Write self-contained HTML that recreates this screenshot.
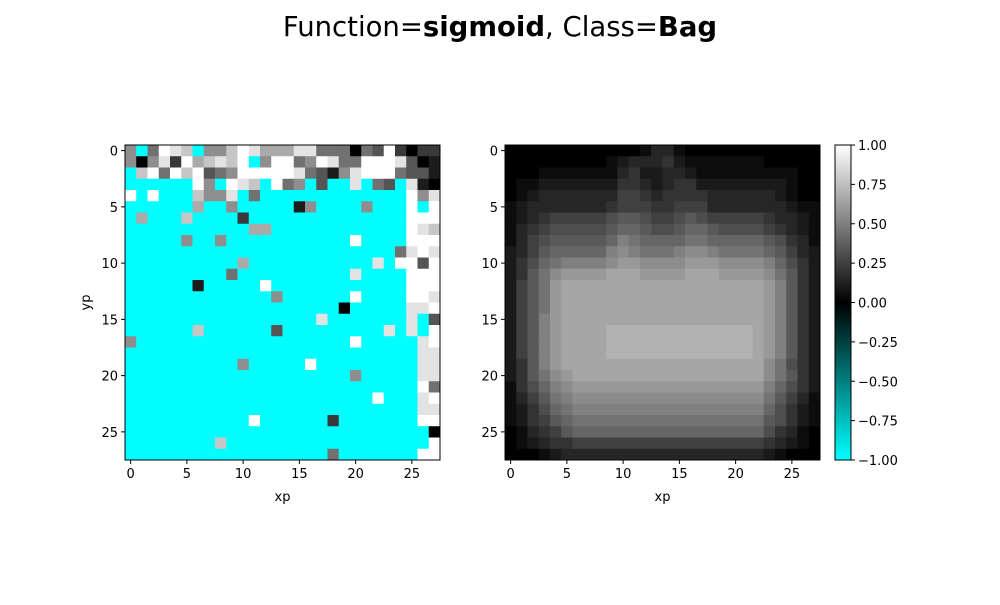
<!DOCTYPE html>
<html><head><meta charset="utf-8"><style>
body{margin:0;background:#fff;}
svg text{font-family:"DejaVu Sans","Liberation Sans",sans-serif;fill:#000;}
</style></head><body>
<svg id="fig" width="1000" height="600" viewBox="0 0 1000 600" xmlns="http://www.w3.org/2000/svg">
<rect width="1000" height="600" fill="#fff"/>
<text x="500" y="36" font-size="27.5" text-anchor="middle">Function=<tspan font-weight="bold">sigmoid</tspan>, Class=<tspan font-weight="bold">Bag</tspan></text>
<defs><linearGradient id="cbg" x1="0" y1="1" x2="0" y2="0">
<stop offset="0" stop-color="#00ffff"/><stop offset="0.5" stop-color="#000"/><stop offset="1" stop-color="#fff"/></linearGradient></defs>
<g id="left"></g>
<g id="right"></g>
<g id="cbar"></g>
</svg>
<script>
// Left heatmap: '.' = -1 (cyan), digit d = d/9
const leftRows = [
"5.4987.557986668844404392022",
"50582967879.5994598449998301",
".794979345999998431589994331",
"......95.987.945.3..8.43.810",
"9.9...7558.4.............958",
"......6..5.....15....5...9.9",
".6...7....2..............999",
"...........66............987",
".....5..5...........9....999",
"........................4898",
"..........6...........8.9939",
".........4..........8....999",
"......1.....9............999",
".............5......9....998",
"...................0.....889",
".................8.......8.3",
"......7......3.........8.8.9",
"5...................9.....89",
"..........................88",
"..........5.....9.........88",
"....................5.....88",
"..........................94",
"......................9...89",
"..........................88",
"...........9......2.......99",
"...........................0",
"........7..................9",
"..................4.......99"
];
// Right heatmap: hex digit d = d/20
const rightRows = [
"0000000000001331000000000000",
"0000000001233342111111100000",
"0001111111342233211111111100",
"0112222222443234422222222100",
"0123333333554344443333332100",
"1233333334555445553333333211",
"1234555556776556765555543321",
"1345666667887667887666654321",
"1356777778A98888998888876431",
"235788888ABA999ABBA999987532",
"24689AAAABCCBBBBCCCBBBBA8642",
"2479BCCCCDDDCCCCDDDCCCCB9742",
"2579CDDDDDDDDDDDDDDDDDDCA742",
"2579CDDDDDDDDDDDDDDDDDDCA742",
"2579CDDDDDDDDDDDDDDDDDDCA742",
"257ACDDDDDDDDDDDDDDDDDDCA742",
"257ACDDDDEEEEEEEEEEEEEDCA742",
"257ACDDDDEEEEEEEEEEEEEDCA742",
"257ACDDDDEEEEEEEEEEEEEDCA742",
"247ACDDDDDDDDDDDDDDDDDDB9642",
"2479BCDDDDDDDDDDDDDDDDDB9742",
"1468ABCCCCCCCCCCCCCCCCCA8642",
"13579ABBBBBBBBBBBBBBBBB97531",
"124689AAAAAAAAAAAAAAAAA86421",
"1245789999999999999999976421",
"0134578888888888888888864310",
"0123445555555555555555543210",
"0001233333333333333333321000"
];
const xTicks = [0,5,10,15,20,25];
const yTicks = [0,5,10,15,20,25];
const cbTicks = [-1,-0.75,-0.5,-0.25,0,0.25,0.5,0.75,1];
const cbLabels = ["\u22121.00","\u22120.75","\u22120.50","\u22120.25","0.00","0.25","0.50","0.75","1.00"];

const NS="http://www.w3.org/2000/svg";
function mk(tag,attrs,parent){const e=document.createElementNS(NS,tag);for(const k in attrs)e.setAttribute(k,attrs[k]);parent.appendChild(e);return e;}
function color(v){v=Math.max(-1,Math.min(1,v));if(v<0){const c=Math.round(-v*255);return `rgb(0,${c},${c})`;}const g=Math.round(v*255);return `rgb(${g},${g},${g})`;}
function leftVal(ch){return ch==='.'?-1:parseInt(ch,10)/9;}
function rightVal(ch){return parseInt(ch,16)/20;}
const N=28, TOP=145, SIZE=315, CELL=SIZE/N;
function panel(g,x0,rows,fn,showY){
  const sx=i=>x0+(i+0.5)*CELL, sy=j=>TOP+(j+0.5)*CELL;
  rows.forEach((row,j)=>{for(let i=0;i<N;i++){
    const r=mk('rect',{x:x0+i*CELL,y:TOP+j*CELL,width:CELL+0.4,height:CELL+0.4,fill:color(fn(row[i]||'.'))},g);
    
    
  }});
  mk('rect',{x:x0,y:TOP,width:SIZE,height:SIZE,fill:'none',stroke:'#000','stroke-width':1},g);
  xTicks.forEach(t=>{
    mk('line',{x1:sx(t),x2:sx(t),y1:TOP+SIZE,y2:TOP+SIZE+4,stroke:'#000'},g);
    const tx=mk('text',{x:sx(t),y:TOP+SIZE+18,'font-size':13,'text-anchor':'middle'},g);tx.textContent=t;
    
    
  });
  yTicks.forEach(t=>{
    mk('line',{x1:x0-4,x2:x0,y1:sy(t),y2:sy(t),stroke:'#000'},g);
    const tx=mk('text',{x:x0-7,y:sy(t)+5,'font-size':13,'text-anchor':'end'},g);tx.textContent=t;
    
    
  });
  const xl=mk('text',{x:x0+SIZE/2,y:TOP+SIZE+41,'font-size':13,'text-anchor':'middle'},g);xl.textContent='xp';
  
  
  if(showY){const yl=mk('text',{x:90,y:TOP+SIZE/2,'font-size':13,'text-anchor':'middle',transform:`rotate(-90 90 ${TOP+SIZE/2})`},g);yl.textContent='yp';
    
    }
}
panel(document.getElementById('left'),125,leftRows,leftVal,true);
panel(document.getElementById('right'),505,rightRows,rightVal,false);
const cb=document.getElementById('cbar');
const CX=835,CW=16;
mk('rect',{x:CX,y:TOP,width:CW,height:SIZE,fill:'url(#cbg)',stroke:'#000','stroke-width':1},cb);
const cy=v=>TOP+SIZE-(v+1)/2*SIZE;
cbTicks.forEach((t,k)=>{
  mk('line',{x1:CX+CW,x2:CX+CW+4,y1:cy(t),y2:cy(t),stroke:'#000'},cb);
  const tx=mk('text',{x:CX+CW+7,y:cy(t)+5,'font-size':13},cb);tx.textContent=cbLabels[k];
  
  
});
</script>
</body></html>
